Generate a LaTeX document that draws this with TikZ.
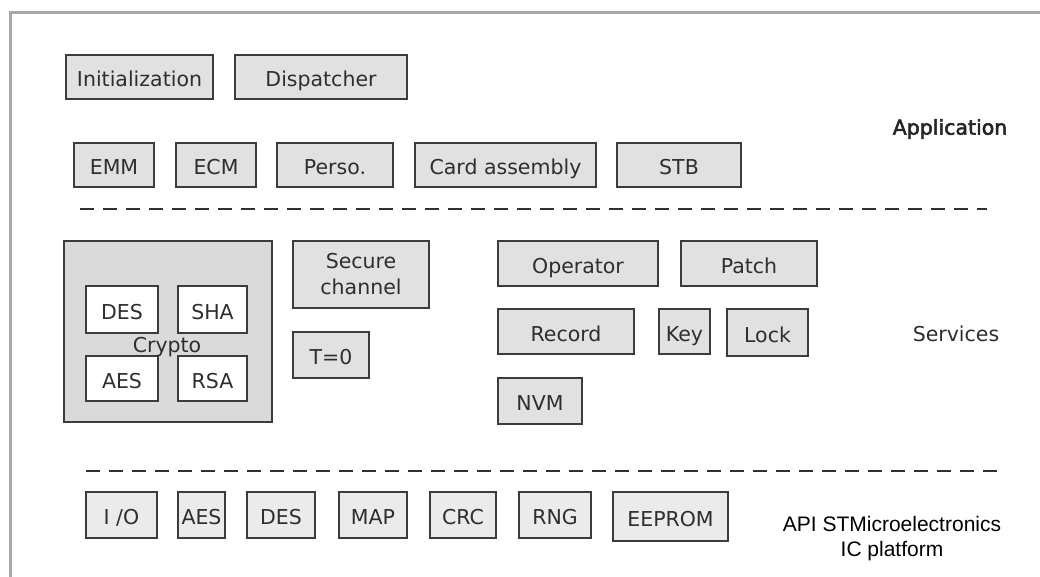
\documentclass[tikz,border=0pt]{standalone}
\usepackage{fontspec}
\setmainfont{DejaVu Sans}
\newfontfamily\appfont{DejaVu Sans}[FakeBold=2.5]
\newfontfamily\arialfont{Liberation Sans}
\definecolor{framecol}{HTML}{A8A8A8}
\definecolor{boxfill}{HTML}{E1E1E1}
\definecolor{boxfilllow}{HTML}{EBEBEB}
\definecolor{cryptofill}{HTML}{DADADA}
\definecolor{edgecol}{HTML}{3C3C3C}
\definecolor{txtcol}{HTML}{2E2E2E}
\definecolor{dashcol}{HTML}{303030}
\begin{document}
\begin{tikzpicture}[x=1pt,y=-1pt,
  every node/.style={font=\fontsize{20.5}{26}\selectfont, text=txtcol},
  boxbase/.style={draw=edgecol, line width=1.6pt, fill=boxfill, inner sep=0pt, align=center},
  box/.style={boxbase, text height=20pt, text depth=1pt},
  lowbox/.style={box, fill=boxfilllow},
  wbox/.style={box, fill=white},
  sep/.style={draw=dashcol, line width=2.7pt, dash pattern=on 14pt off 9pt}]
\useasboundingbox (0,0) rectangle (1040,576);
\fill[white] (0,0) rectangle (1040,576);
\draw[framecol, line width=3pt] (10,580) -- (10,12) -- (1044,12);

% Application layer
\node[box, minimum width=147pt, minimum height=44pt] (init) at (139.5,77) {Initialization};
\node[box, minimum width=172pt, minimum height=44pt] (disp) at (321,77) {Dispatcher};
\node[box, minimum width=80pt, minimum height=44pt] (emm) at (114,165) {EMM};
\node[box, minimum width=80pt, minimum height=44pt] (ecm) at (216,165) {ECM};
\node[box, minimum width=116pt, minimum height=44pt] (perso) at (335,165) {Perso.};
\node[box, minimum width=181pt, minimum height=44pt] (card) at (505.5,165) {Card assembly};
\node[box, minimum width=124pt, minimum height=44pt] (stb) at (679,165) {STB};
\node[font=\appfont\fontsize{20.5}{26}\selectfont, text=black!85] (app) at (950,129) {Application};

\coordinate (d1a) at (80,209);
\coordinate (d1b) at (987,209);
\draw[sep] (d1a) -- (d1b);

% Services layer
\node[boxbase, fill=cryptofill, minimum width=208pt, minimum height=181pt] (crypto) at (168,331.5) {};
\node[wbox, minimum width=72pt, minimum height=47pt] (des1) at (122,309.5) {DES};
\node[wbox, minimum width=69pt, minimum height=47pt] (sha) at (212.5,309.5) {SHA};
\node[wbox, minimum width=72pt, minimum height=45pt] (aes1) at (122,378.5) {AES};
\node[wbox, minimum width=69pt, minimum height=45pt] (rsa) at (212.5,378.5) {RSA};
\node (cryptolbl) at (167,347) {Crypto};
\node[boxbase, minimum width=136pt, minimum height=67pt] (secure) at (361,274.5) {Secure\\channel};
\node[box, minimum width=76pt, minimum height=46pt] (t0) at (331,355) {T=0};
\node[box, minimum width=160pt, minimum height=45pt] (oper) at (578,263.5) {Operator};
\node[box, minimum width=136pt, minimum height=45pt] (patch) at (749,263.5) {Patch};
\node[box, minimum width=136pt, minimum height=45pt] (record) at (566,331.5) {Record};
\node[box, minimum width=51pt, minimum height=45pt] (key) at (684.5,331.5) {Key};
\node[box, minimum width=81pt, minimum height=47pt] (lock) at (767.5,332.5) {Lock};
\node[box, minimum width=84pt, minimum height=46pt] (nvm) at (540,401) {NVM};
\node (serv) at (956,334) {Services};

\coordinate (d2a) at (86,471);
\coordinate (d2b) at (1001,471);
\draw[sep] (d2a) -- (d2b);

% Platform layer
\node[lowbox, minimum width=71pt, minimum height=46pt] (io) at (121.5,515) {I /O};
\node[lowbox, minimum width=47pt, minimum height=46pt] (aes2) at (201.5,515) {AES};
\node[lowbox, minimum width=68pt, minimum height=46pt] (des2) at (281,515) {DES};
\node[lowbox, minimum width=68pt, minimum height=46pt] (map) at (373,515) {MAP};
\node[lowbox, minimum width=66pt, minimum height=46pt] (crc) at (463,515) {CRC};
\node[lowbox, minimum width=72pt, minimum height=46pt] (rng) at (555,515) {RNG};
\node[lowbox, minimum width=115pt, minimum height=49pt] (eeprom) at (670.5,516.5) {EEPROM};
\node[font=\arialfont\fontsize{21}{25}\selectfont, text=black, align=center] (api) at (892,539) {API STMicroelectronics\\IC platform};
\end{tikzpicture}
\end{document}
